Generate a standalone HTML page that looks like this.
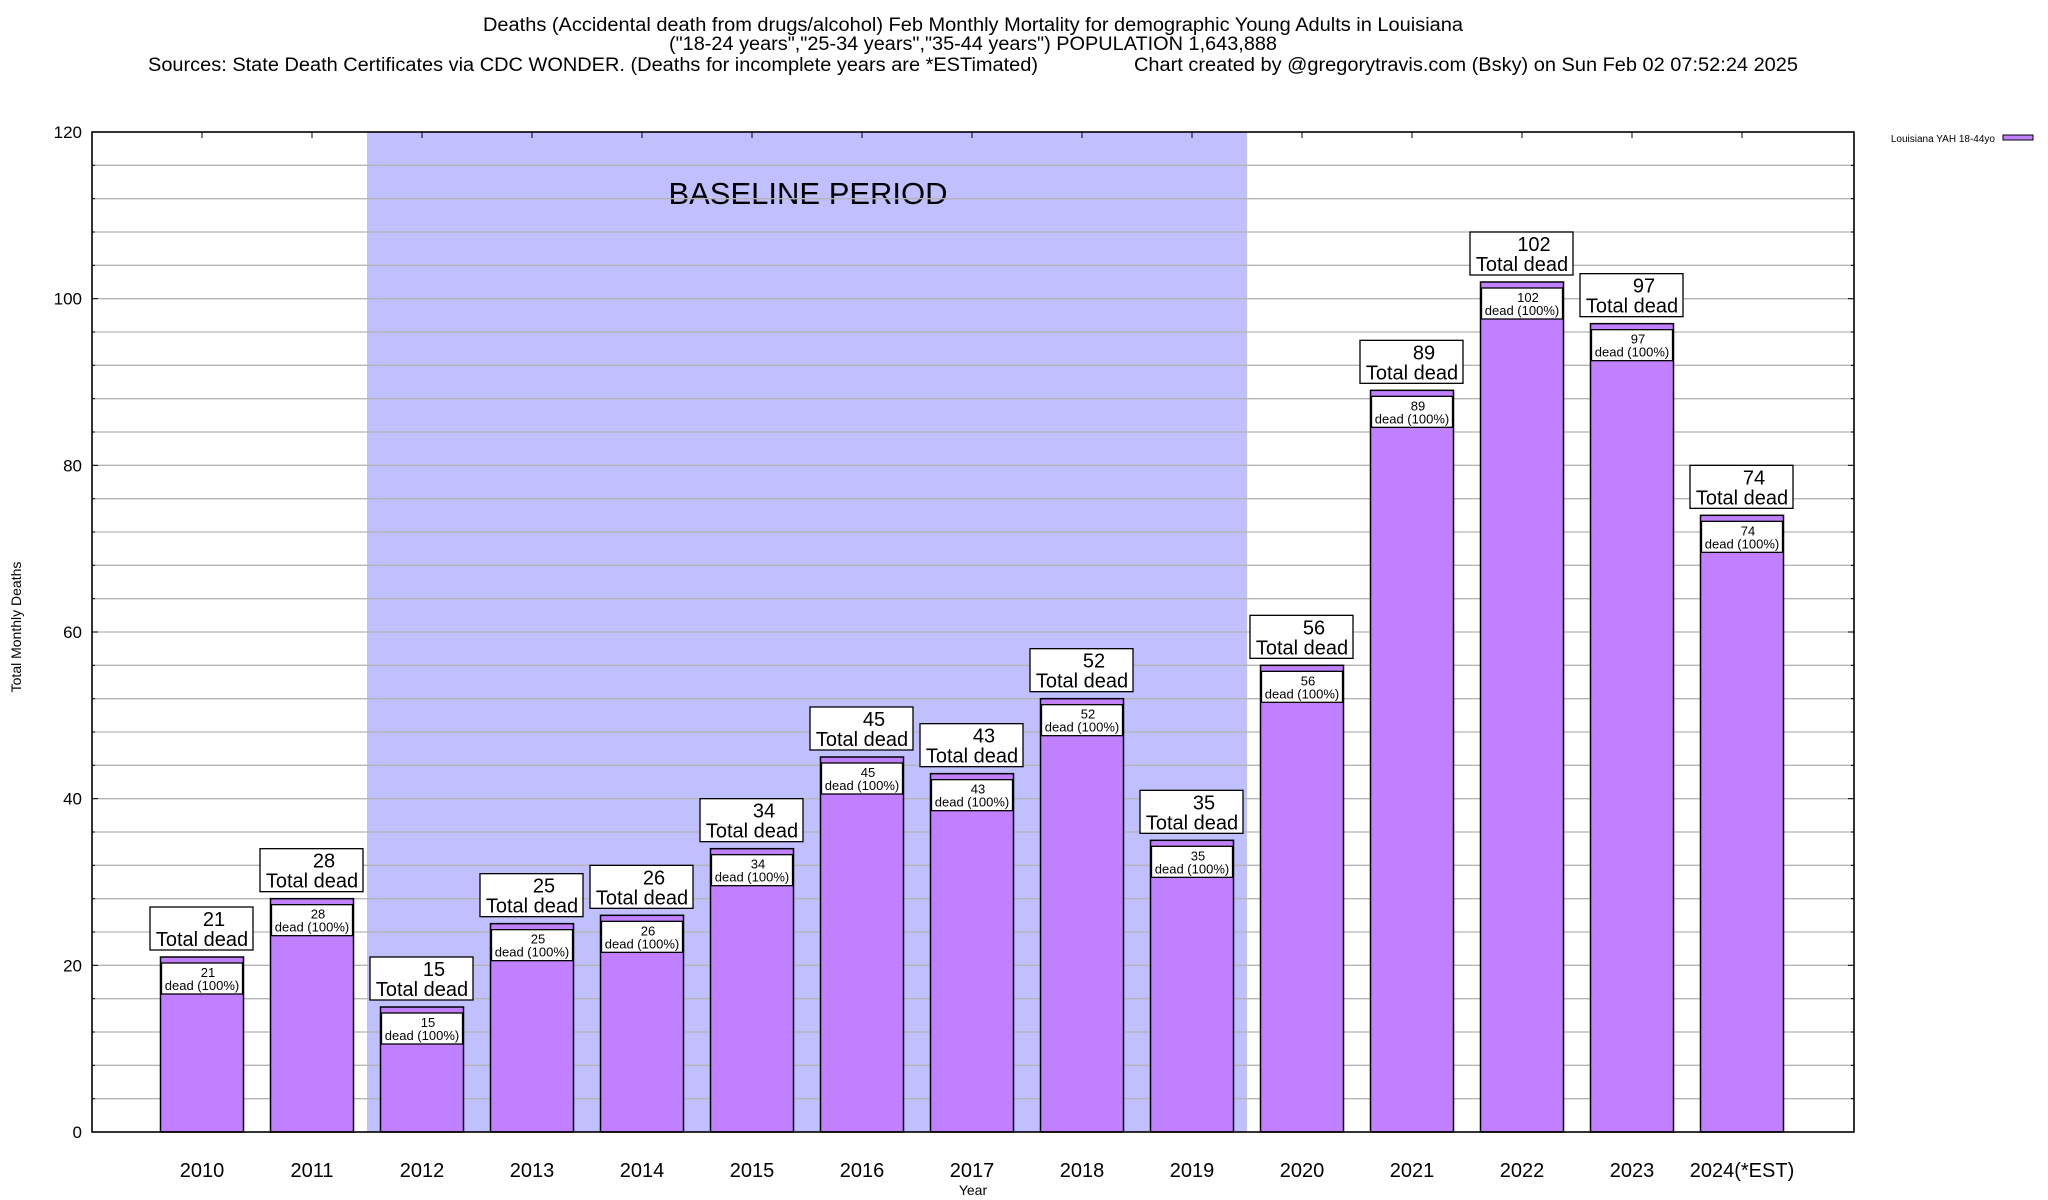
<!DOCTYPE html>
<html><head><meta charset="utf-8"><style>
html,body{margin:0;padding:0;background:#fff;}
svg{display:block;font-family:"Liberation Sans",Arial,sans-serif;}
</style></head><body>
<svg id="chart" width="2048" height="1200" viewBox="0 0 2048 1200">
<g font-size="19" fill="#000">
<text x="483" y="31" textLength="980" lengthAdjust="spacingAndGlyphs">Deaths (Accidental death from drugs/alcohol) Feb Monthly Mortality for demographic Young Adults in Louisiana</text>
<text x="669" y="50" textLength="608" lengthAdjust="spacingAndGlyphs">("18-24 years","25-34 years","35-44 years") POPULATION 1,643,888</text>
<text x="148" y="71" textLength="890" lengthAdjust="spacingAndGlyphs">Sources: State Death Certificates via CDC WONDER. (Deaths for incomplete years are *ESTimated)</text>
<text x="1134" y="71" textLength="664" lengthAdjust="spacingAndGlyphs">Chart created by @gregorytravis.com (Bsky) on Sun Feb 02 07:52:24 2025</text>
</g>
<g id="plot"></g>
</svg>
<script>
const categories=["2010","2011","2012","2013","2014","2015","2016","2017","2018","2019","2020","2021","2022","2023","2024(*EST)"];
const deaths=[21,28,15,25,26,34,45,43,52,35,56,89,102,97,74];
const yTicks=[0,20,40,60,80,100,120];
const baselineStart=2,baselineEnd=9;
const NS="http://www.w3.org/2000/svg";
const L=92,R=1854,T=132,B=1132,yMax=120,slot=110;
function y(v){return B-(v/yMax)*(B-T);}
function x(i){return L+slot*(i+1);}
const g=document.getElementById('plot');
function mk(tag,attrs,parent){const e=document.createElementNS(NS,tag);for(const k in attrs)e.setAttribute(k,attrs[k]);(parent||g).appendChild(e);return e;}
// baseline shading
const sh=mk('rect',{x:x(baselineStart)-slot/2,y:T,width:slot*(baselineEnd-baselineStart+1),height:B-T,fill:'#c0c0ff'});


const bt=mk('text',{x:808,y:204,'font-size':31,'text-anchor':'middle'});bt.textContent='BASELINE PERIOD';


// grid
for(let v=4;v<yMax;v+=4){const ln=mk('line',{x1:L,x2:R,y1:y(v),y2:y(v),stroke:'#b4b4b4','stroke-width':1.3});


mk('line',{x1:L,x2:L+(v%20==0?6:3),y1:y(v),y2:y(v),stroke:'#000'});mk('line',{x1:R,x2:R-(v%20==0?6:3),y1:y(v),y2:y(v),stroke:'#000'});}
yTicks.forEach(v=>{const t=mk('text',{x:82,y:y(v)+6,'font-size':17,'text-anchor':'end'});t.textContent=v;

});
// bars
categories.forEach((c,i)=>{const cx=x(i),v=deaths[i],top=y(v);
const b=mk('rect',{x:cx-41.5,y:top,width:83,height:B-top,fill:'#c080ff',stroke:'#000','stroke-width':1.5});


const ib=mk('rect',{x:cx-40.5,y:top+6,width:81,height:31,fill:'#fff',stroke:'#000','stroke-width':1.3});


const t1=mk('text',{x:cx+6,y:top+20,'font-size':13,'text-anchor':'middle'});t1.textContent=v;


const t2=mk('text',{x:cx,y:top+33,'font-size':13,'text-anchor':'middle'});t2.textContent='dead (100%)';


const ob=mk('rect',{x:cx-52,y:top-50,width:103,height:43,fill:'#fff',stroke:'#000','stroke-width':1.3});


const t3=mk('text',{x:cx+12,y:top-31,'font-size':20,'text-anchor':'middle'});t3.textContent=v;


const t4=mk('text',{x:cx,y:top-11,'font-size':20,'text-anchor':'middle'});t4.textContent='Total dead';


const xl=mk('text',{x:cx,y:1177,'font-size':20,'text-anchor':'middle'});xl.textContent=c;


mk('line',{x1:cx,x2:cx,y1:T,y2:T+6,stroke:'#000'});
});
const fr=mk('rect',{x:L,y:T,width:R-L,height:B-T,fill:'none',stroke:'#000','stroke-width':1.6});


const xt=mk('text',{x:973,y:1195,'font-size':14,'text-anchor':'middle'});xt.textContent='Year';


const yt=mk('text',{x:0,y:0,'font-size':14,'text-anchor':'middle',transform:'translate(21,627) rotate(-90)'});yt.textContent='Total Monthly Deaths';


const lt=mk('text',{x:1995,y:142,'font-size':10,'text-anchor':'end'});lt.textContent='Louisiana YAH 18-44yo';


const ls=mk('rect',{x:2003,y:135,width:30,height:5,fill:'#c080ff',stroke:'#000','stroke-width':1});


</script>
</body></html>
